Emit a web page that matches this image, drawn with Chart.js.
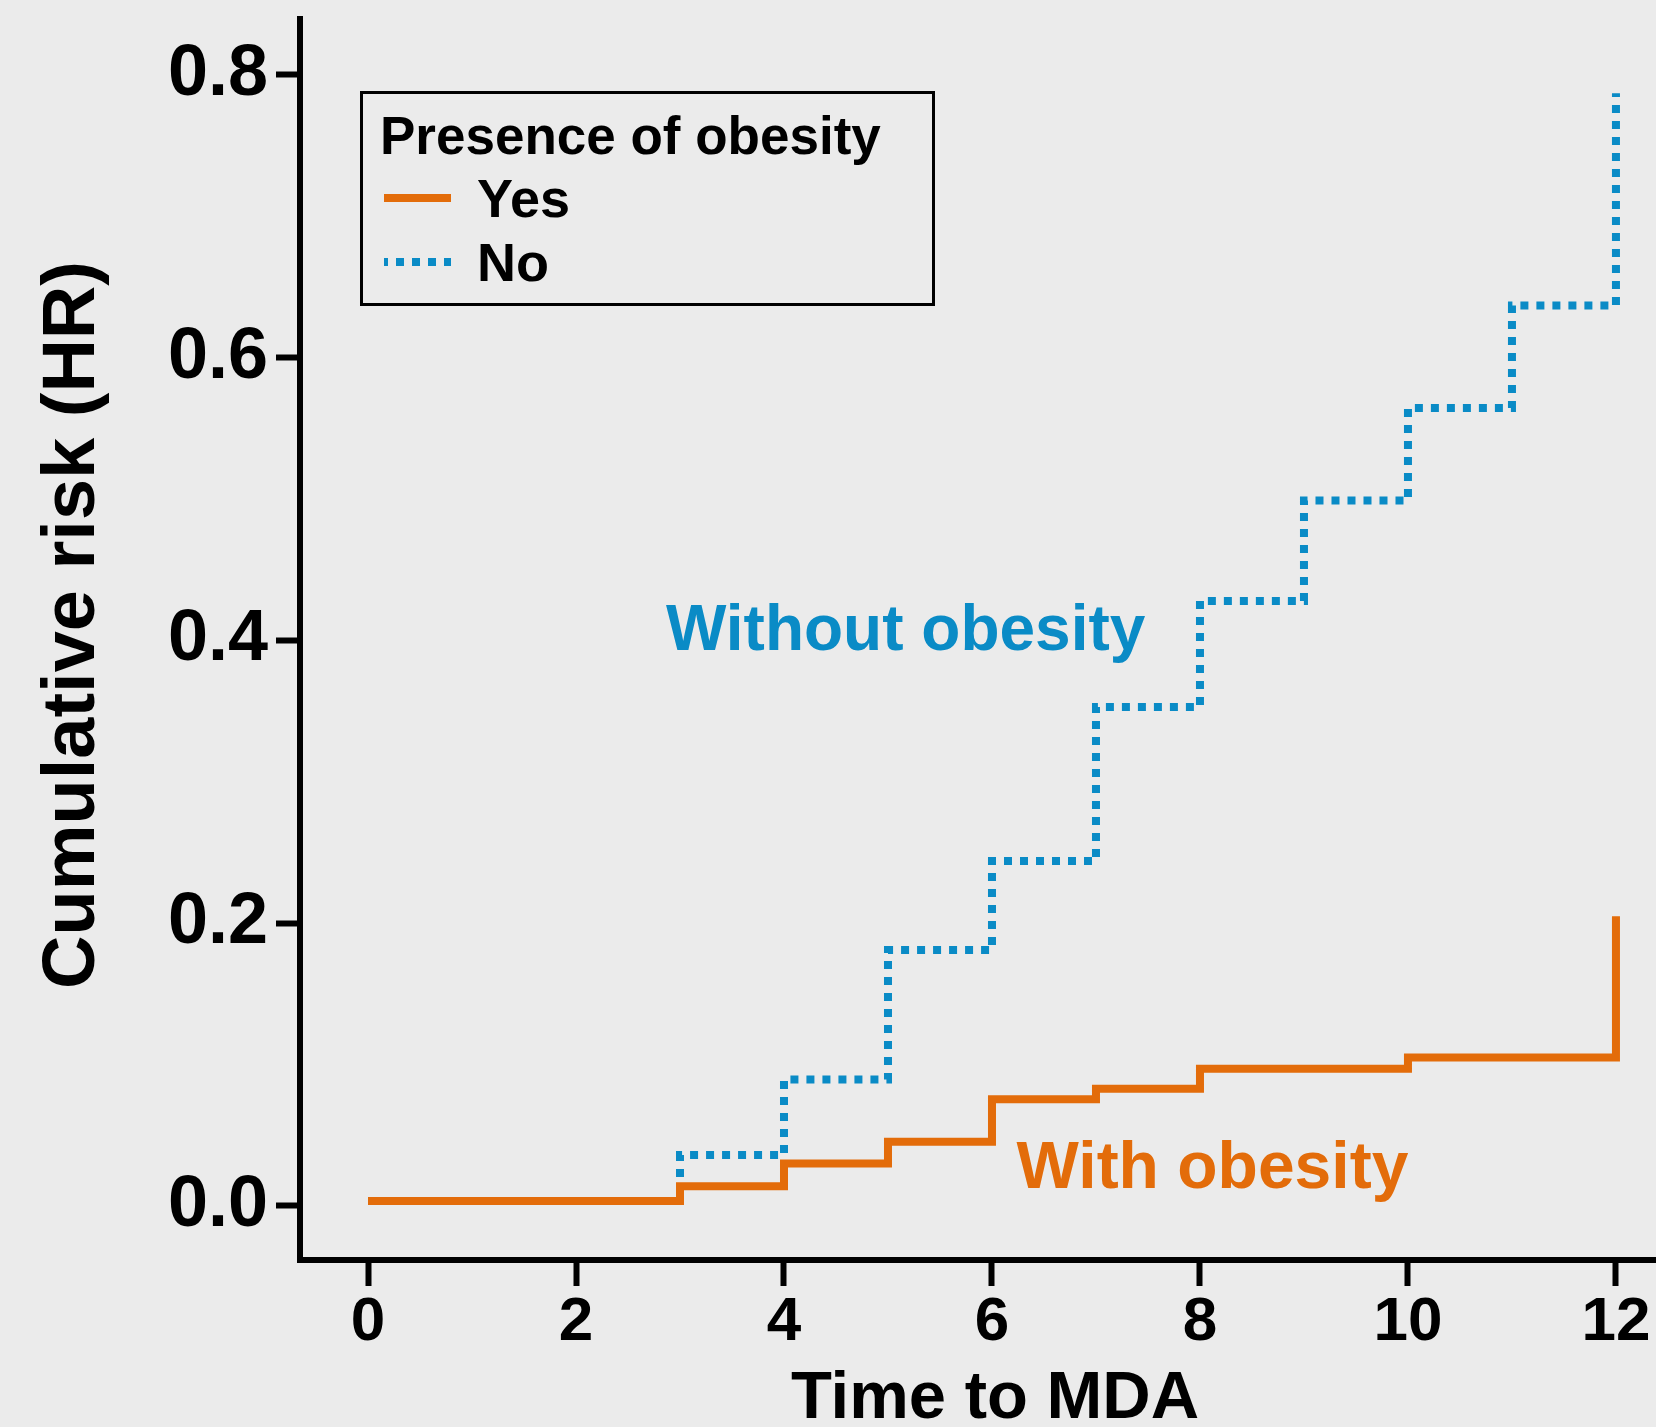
<!DOCTYPE html>
<html>
<head>
<meta charset="utf-8">
<script src="https://cdn.jsdelivr.net/npm/chart.js@4.4.0/dist/chart.umd.min.js"></script>
<style>
  html, body { margin: 0; padding: 0; background: #ebebeb; }
  canvas { display: block; }
</style>
</head>
<body>
<canvas id="kmChart" width="1656" height="1427"></canvas>
<script>
// 1. Dados
const tempos = [0, 3, 4, 5, 6, 7, 8, 9, 10, 11, 12];
const riscoComObesidade = [0.0035, 0.014, 0.030, 0.0455, 0.0755, 0.083, 0.097, 0.097, 0.105, 0.105, 0.205];
const riscoSemObesidade = [0.0035, 0.036, 0.0895, 0.181, 0.244, 0.353, 0.428, 0.499, 0.5645, 0.637, 0.787];
const grupos = ['Yes', 'No'];
const xTicks = [0, 2, 4, 6, 8, 10, 12];
const yTicks = [0, 0.2, 0.4, 0.6, 0.8];
const yTickLabels = ['0.0', '0.2', '0.4', '0.6', '0.8'];
const tituloLegenda = 'Presence of obesity';
const tituloX = 'Time to MDA';
const tituloY = 'Cumulative risk (HR)';
const anotacoes = [
    { texto: 'Without obesity', x: 5.17, y: 0.406, grupo: 1, tamanho: 64 },
    { texto: 'With obesity', x: 8.12, y: 0.0255, grupo: 0, tamanho: 66 }
];

// 2. Estilo
const LARANJA = '#e36c0a';
const AZUL = '#0a8bc6';
const FONTE = '"Liberation Sans", Arial, Helvetica, sans-serif';

const pontos = (ys) => tempos.map((t, i) => ({ x: t, y: ys[i] }));

// 3. Plugins de desenho
const fundo = {
    id: 'fundo',
    beforeDraw(chart) {
        const ctx = chart.ctx;
        ctx.save();
        ctx.fillStyle = '#ebebeb';
        ctx.fillRect(0, 0, chart.width, chart.height);
        ctx.restore();
    }
};

const rotulos = {
    id: 'rotulos',
    afterDatasetsDraw(chart) {
        const ctx = chart.ctx;
        const sx = chart.scales.x, sy = chart.scales.y;
        ctx.save();
        ctx.textAlign = 'center';
        ctx.textBaseline = 'middle';
        anotacoes.forEach(a => {
            ctx.font = 'bold ' + a.tamanho + 'px ' + FONTE;
            ctx.fillStyle = chart.data.datasets[a.grupo].borderColor;
            ctx.fillText(a.texto, sx.getPixelForValue(a.x), sy.getPixelForValue(a.y));
        });
        ctx.restore();
    }
};

const titulosEixos = {
    id: 'titulosEixos',
    afterDraw(chart) {
        const ctx = chart.ctx;
        ctx.save();
        ctx.fillStyle = '#000';
        ctx.textAlign = 'center';
        ctx.textBaseline = 'middle';
        ctx.font = 'bold 67px ' + FONTE;
        ctx.fillText(tituloX, 995, 1400);
        ctx.translate(74, 625);
        ctx.rotate(-Math.PI / 2);
        ctx.font = 'bold 74px ' + FONTE;
        ctx.fillText(tituloY, 0, 0);
        ctx.restore();
    }
};

const legenda = {
    id: 'legenda',
    afterDraw(chart) {
        const ctx = chart.ctx;
        ctx.save();
        ctx.fillStyle = '#ebebeb';
        ctx.fillRect(361, 92, 573, 212);
        ctx.strokeStyle = '#000';
        ctx.lineWidth = 3;
        ctx.strokeRect(361.5, 92.5, 572, 212);

        ctx.fillStyle = '#000';
        ctx.textAlign = 'left';
        ctx.textBaseline = 'middle';
        ctx.font = 'bold 53px ' + FONTE;
        ctx.fillText(tituloLegenda, 380, 139);

        const linhasY = [198, 262];
        chart.data.datasets.forEach((ds, i) => {
            const y = linhasY[i];
            ctx.beginPath();
            ctx.strokeStyle = ds.borderColor;
            ctx.lineWidth = 8;
            ctx.lineCap = 'butt';
            ctx.setLineDash(ds.borderDash || []);
            ctx.lineDashOffset = ds.borderDash ? 4 : 0;
            ctx.moveTo(384, y);
            ctx.lineTo(451, y);
            ctx.stroke();
            ctx.setLineDash([]);
            ctx.fillStyle = '#000';
            ctx.font = 'bold 54px ' + FONTE;
            ctx.fillText(ds.label, 477, y + 4);
        });
        ctx.restore();
    }
};

// 4. Escalas (limites calculados a partir da moldura da figura)
const xMin = -0.654, xMax = 12.385;
const yMin = -0.0382, yMax = 0.8396;

new Chart(document.getElementById('kmChart'), {
    type: 'line',
    data: {
        datasets: [
            {
                label: grupos[0],
                data: pontos(riscoComObesidade),
                borderColor: LARANJA,
                borderWidth: 8,
                stepped: true,
                pointRadius: 0,
                fill: false,
                borderJoinStyle: 'miter',
                borderCapStyle: 'butt'
            },
            {
                label: grupos[1],
                data: pontos(riscoSemObesidade),
                borderColor: AZUL,
                borderWidth: 8,
                borderDash: [8, 8],
                stepped: true,
                pointRadius: 0,
                fill: false,
                borderJoinStyle: 'miter',
                borderCapStyle: 'butt'
            }
        ]
    },
    options: {
        responsive: false,
        animation: false,
        layout: { padding: { top: 19, left: 0, right: 0, bottom: 0 } },
        plugins: {
            legend: { display: false },
            tooltip: { enabled: false }
        },
        scales: {
            x: {
                type: 'linear',
                min: xMin,
                max: xMax,
                afterBuildTicks: s => { s.ticks = xTicks.map(v => ({ value: v })); },
                afterFit: s => { s.height = 167; s.paddingLeft = 0; s.paddingRight = 0; },
                grid: { drawOnChartArea: false, drawTicks: true, tickLength: 26, tickWidth: 6, tickColor: '#000' },
                border: { display: true, color: '#000', width: 6 },
                ticks: {
                    color: '#000',
                    padding: 0,
                    maxRotation: 0,
                    autoSkip: false,
                    font: { family: FONTE, size: 62, weight: 'bold', lineHeight: 1.2 },
                    callback: v => String(v)
                }
            },
            y: {
                type: 'linear',
                min: yMin,
                max: yMax,
                afterBuildTicks: s => { s.ticks = yTicks.map(v => ({ value: v })); },
                afterFit: s => { s.width = 300; s.paddingTop = 0; s.paddingBottom = 0; },
                grid: { drawOnChartArea: false, drawTicks: true, tickLength: 24, tickWidth: 6, tickColor: '#000' },
                border: { display: true, color: '#000', width: 6 },
                ticks: {
                    color: '#000',
                    padding: 8,
                    autoSkip: false,
                    font: { family: FONTE, size: 72, weight: 'bold' },
                    callback: (v) => yTickLabels[yTicks.indexOf(v)]
                }
            }
        }
    },
    plugins: [fundo, rotulos, legenda, titulosEixos]
});
</script>
</body>
</html>
